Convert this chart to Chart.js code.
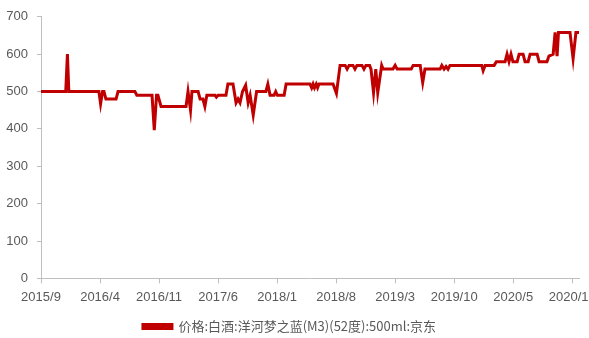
<!DOCTYPE html>
<html>
<head>
<meta charset="utf-8">
<script src="https://cdn.jsdelivr.net/npm/chart.js@4"></script>
<style>
  html, body { margin: 0; padding: 0; background: #fff; }
  #wrap { width: 589px; height: 338px; }
</style>
</head>
<body>
<div id="wrap"><canvas id="chart" width="589" height="338"></canvas></div>
<script>
/* =============== Data =============== */
const seriesName = "价格:白酒:洋河梦之蓝(M3)(52度):500ml:京东";

const dates = [
  "2015-09-01", "2015-11-29", "2015-12-05", "2015-12-10", "2016-03-27", "2016-04-03",
  "2016-04-10", "2016-04-15", "2016-04-22", "2016-05-28", "2016-06-05", "2016-08-05",
  "2016-08-12", "2016-10-06", "2016-10-14", "2016-10-22", "2016-10-27", "2016-11-08",
  "2017-02-07", "2017-02-14", "2017-02-23", "2017-02-28", "2017-03-20", "2017-03-27",
  "2017-04-07", "2017-04-14", "2017-04-21", "2017-05-20", "2017-05-25", "2017-06-01",
  "2017-06-29", "2017-07-06", "2017-07-24", "2017-08-05", "2017-08-12", "2017-08-19",
  "2017-08-28", "2017-09-09", "2017-09-18", "2017-09-25", "2017-10-06", "2017-10-18",
  "2017-11-21", "2017-11-28", "2017-12-06", "2017-12-20", "2017-12-26", "2018-01-02",
  "2018-01-26", "2018-02-03", "2018-04-28", "2018-05-04", "2018-05-09", "2018-05-14",
  "2018-05-20", "2018-05-25", "2018-05-30", "2018-07-20", "2018-08-02", "2018-08-15",
  "2018-09-03", "2018-09-10", "2018-09-17", "2018-10-01", "2018-10-08", "2018-10-15",
  "2018-11-03", "2018-11-10", "2018-11-17", "2018-11-30", "2018-12-05", "2018-12-14",
  "2018-12-22", "2018-12-29", "2019-01-13", "2019-01-18", "2019-02-23", "2019-03-01",
  "2019-03-08", "2019-04-28", "2019-05-05", "2019-05-30", "2019-06-09", "2019-06-17",
  "2019-08-11", "2019-08-17", "2019-08-25", "2019-09-02", "2019-09-09", "2019-09-16",
  "2020-01-09", "2020-01-14", "2020-01-21", "2020-02-23", "2020-03-01", "2020-04-02",
  "2020-04-09", "2020-04-16", "2020-04-23", "2020-04-30", "2020-05-15", "2020-05-22",
  "2020-06-06", "2020-06-13", "2020-06-24", "2020-07-01", "2020-07-26", "2020-08-03",
  "2020-09-01", "2020-09-08", "2020-09-23", "2020-09-30", "2020-10-07", "2020-10-12",
  "2020-11-23", "2020-12-04", "2020-12-14", "2020-12-25"
];

const prices = [
  500, 500, 600, 500, 500, 467,
  500, 500, 480, 480, 500, 500,
  490, 490, 397, 490, 490, 460,
  460, 500, 450, 500, 500, 480,
  480, 460, 490, 490, 485, 490,
  490, 520, 520, 470, 480, 470,
  500, 517, 470, 490, 437, 500,
  500, 520, 490, 490, 500, 490,
  490, 520, 520, 510, 520, 510,
  520, 510, 520, 520, 495, 570,
  570, 560, 570, 570, 560, 570,
  570, 560, 570, 570, 560, 497,
  560, 497, 570, 560, 560, 570,
  560, 560, 570, 570, 524, 560,
  560, 570, 560, 567, 560, 570,
  570, 556, 570, 570, 580, 580,
  600, 580, 600, 580, 580, 600,
  600, 580, 580, 600, 600, 580,
  580, 595, 600, 658, 595, 658,
  658, 588, 658, 658
];

// x axis runs in months counted from 2015/9, one label every 7 months
const xTickLabels = ["2015/9", "2016/4", "2016/11", "2017/6", "2018/1",
                     "2018/8", "2019/3", "2019/10", "2020/5", "2020/12"];
const xTickStep = 7;
const xMax = 63.8;

const yMin = 0, yMax = 700, yStep = 100;

/* =============== Helpers =============== */
function monthIndex(s) {
  const [y, m, d] = s.split("-").map(Number);
  return (y - 2015) * 12 + (m - 9) + (d - 1) / 30;
}

const points = dates.map((d, i) => ({ x: monthIndex(d), y: prices[i] }));

const axisColor = "#bfbfbf";
const tickFont = { family: "'Liberation Sans', Arial, sans-serif", size: 13 };

/* =============== Chart =============== */
new Chart(document.getElementById("chart"), {
  type: "line",
  data: {
    datasets: [{
      label: seriesName,
      data: points,
      borderColor: "#c00000",
      backgroundColor: "#c00000",
      borderWidth: 3,
      pointRadius: 0,
      tension: 0
    }]
  },
  options: {
    responsive: false,
    animation: false,
    layout: { padding: { top: 14, right: 10, left: 0, bottom: -5 } },
    plugins: {
      tooltip: { enabled: false },
      legend: {
        position: "bottom",
        labels: {
          boxWidth: 29,
          boxHeight: 4,
          color: "#595959",
          padding: 2,
          font: { family: "'Noto Sans CJK SC', sans-serif", size: 13 }
        }
      }
    },
    scales: {
      x: {
        type: "linear",
        min: 0,
        max: xMax,
        afterBuildTicks(scale) {
          scale.ticks = xTickLabels.map((_, i) => ({ value: i * xTickStep }));
        },
        afterFit(scale) {
          // keep the last label from squeezing the plot; it runs off the edge
          scale.paddingLeft = 0;
          scale.paddingRight = 0;
          scale.height += 7;
        },
        ticks: {
          color: "#595959",
          font: tickFont,
          padding: 6,
          maxRotation: 0,
          autoSkip: false,
          callback: (v) => xTickLabels[Math.round(v / xTickStep)] ?? ""
        },
        grid: { drawOnChartArea: false, drawTicks: true, tickLength: 5, color: axisColor },
        border: { display: true, color: axisColor, width: 1 }
      },
      y: {
        min: yMin,
        max: yMax,
        afterFit(scale) { scale.width = 41; },
        ticks: {
          stepSize: yStep,
          color: "#595959",
          font: tickFont,
          padding: 9
        },
        grid: { drawOnChartArea: false, drawTicks: true, tickLength: 4, color: axisColor },
        border: { display: true, color: axisColor, width: 1 }
      }
    }
  }
});
</script>
</body>
</html>
